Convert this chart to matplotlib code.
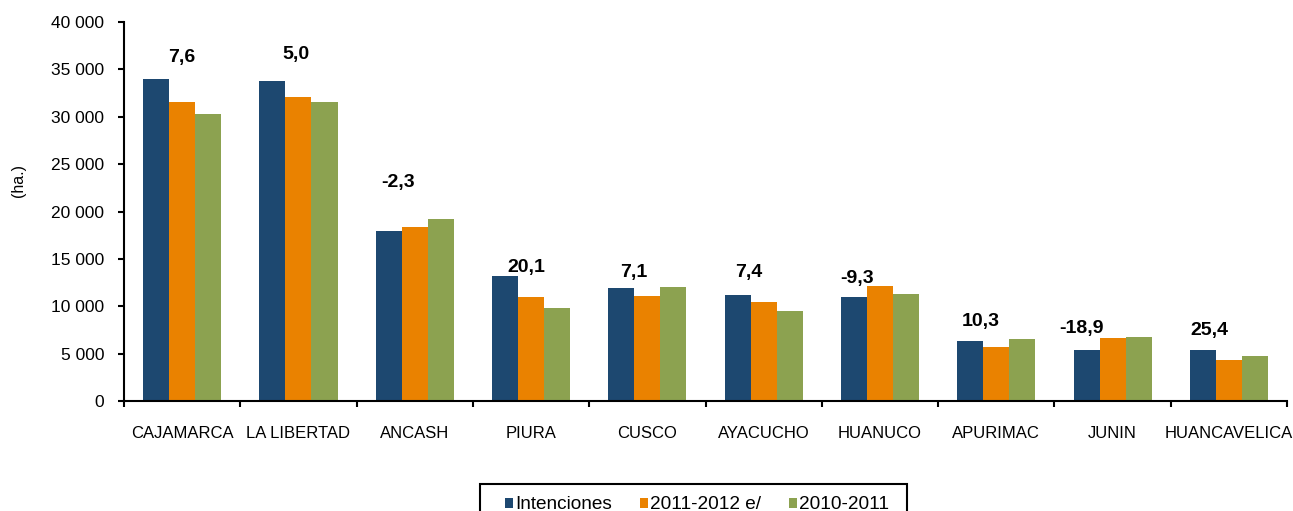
import numpy as np
import matplotlib
matplotlib.use('Agg')
import matplotlib.pyplot as plt
from matplotlib.patches import Rectangle

plt.rcParams['font.family'] = ['Liberation Sans', 'DejaVu Sans']

# data
regiones = ['CAJAMARCA', 'LA LIBERTAD', 'ANCASH', 'PIURA', 'CUSCO',
            'AYACUCHO', 'HUANUCO', 'APURIMAC', 'JUNIN', 'HUANCAVELICA']
intenciones = [34000, 33770, 17940, 13190, 11930, 11190, 10980, 6330, 5380, 5380]
campana_2011_2012 = [31580, 32080, 18360, 10980, 11080, 10420, 12100, 5740, 6630, 4290]
campana_2010_2011 = [30290, 31560, 19200, 9820, 12030, 9500, 11290, 6540, 6750, 4750]
variacion = ['7,6', '5,0', '-2,3', '20,1', '7,1', '7,4', '-9,3', '10,3', '-18,9', '25,4']
series_names = ['Intenciones', '2011-2012 e/', '2010-2011']

# label placement (x shift from group centre, y in data units)
lab_dx = [0.0, -0.02, -0.14, -0.04, -0.12, -0.13, -0.2, -0.13, -0.27, -0.17]
lab_y = [36300, 36600, 23100, 14150, 13600, 13600, 12900, 8450, 7700, 7400]

colors = ['#1D4870', '#EA8200', '#8CA250']

fig = plt.figure(figsize=(12.93, 5.11), dpi=100)
ax = fig.add_axes([0.0959, 0.215, 0.8995, 0.742])

x = np.arange(len(regiones))
w = 0.224
for k, vals in enumerate([intenciones, campana_2011_2012, campana_2010_2011]):
    ax.bar(x + (k - 1) * w, vals, width=w, color=colors[k], label=series_names[k],
           edgecolor='none', zorder=2)

for i, t in enumerate(variacion):
    ax.text(x[i] + lab_dx[i], lab_y[i], t, ha='center', va='center',
            fontsize=14, fontweight='bold')

ax.set_xlim(-0.5, len(regiones) - 0.5)
ax.set_ylim(0, 40000)
ax.set_yticks(np.arange(0, 40001, 5000))
ax.set_yticklabels([f'{v:,}'.replace(',', ' ') for v in range(0, 40001, 5000)])
ax.set_xticks(x)
ax.set_xticklabels(regiones)
ax.set_xticks(np.arange(-0.5, len(regiones), 1), minor=True)
ax.tick_params(axis='x', which='major', length=0, pad=18, labelsize=12)
ax.tick_params(axis='x', which='minor', length=4.3, width=1.5, direction='out')
ax.tick_params(axis='y', length=4.3, width=1.5, pad=10, labelsize=12.5)

for s in ['top', 'right']:
    ax.spines[s].set_visible(False)
for s in ['left', 'bottom']:
    ax.spines[s].set_linewidth(1.5)

ax.set_ylabel('(ha.)', fontsize=11.5)
ax.yaxis.set_label_coords(-0.084, 0.583)

leg = fig.legend(loc='upper center', bbox_to_anchor=(0.539, 0.049), ncol=3,
                 fontsize=13.7, frameon=False,
                 handlelength=0.45, handleheight=0.45, handletextpad=0.1,
                 columnspacing=1.45, borderpad=0.55, borderaxespad=0)

# legend box runs past the bottom edge, as in the original
fig.add_artist(Rectangle((0.3712, -0.05), 0.3302, 0.1028, transform=fig.transFigure,
                         fill=False, edgecolor='black', linewidth=1.5))

fig.savefig('out.png', dpi=100)
